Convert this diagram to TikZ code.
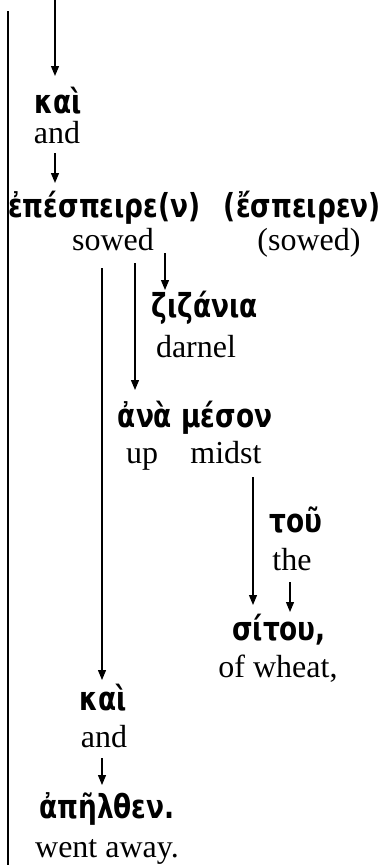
\documentclass[tikz,border=0pt]{standalone}
\usepackage{fontspec}
\setmainfont{Liberation Serif}
\newfontfamily\greekfont[FakeStretch=0.8]{DejaVu Sans}
\usetikzlibrary{arrows.meta}
\begin{document}
\begin{tikzpicture}[x=1pt,y=-1pt,
  gk/.style={font=\greekfont\bfseries\fontsize{33}{33}\selectfont, inner sep=0pt, anchor=base},
  en/.style={font=\fontsize{32}{32}\selectfont, inner sep=0pt, anchor=base},
  arr/.style={line width=1.2pt, -{Triangle[width=8pt,length=10pt]}},
  rule/.style={line width=1.3pt}]
\useasboundingbox (0,0) rectangle (384,865);
\coordinate (top) at (8,11);
\coordinate (bot) at (8,865);
\draw[rule] (top) -- (bot);
\node[gk] (kai1) at (58,113) {καὶ};
\node[en] (and1) at (57,143) {and};
\node[gk,anchor=base west] (epesp) at (8,217) {ἐπέσπειρε(ν)};
\node[gk,anchor=base east] (esp) at (381,217) {(ἔσπειρεν)};
\node[en] (sowed) at (113,250) {sowed};
\node[en] (sowed2) at (309,250) {(sowed)};
\node[gk] (ziz) at (205,317) {ζιζάνια};
\node[en] (darnel) at (196,357) {darnel};
\node[gk] (ana) at (195,427) {ἀνὰ μέσον};
\node[en] (up) at (142,463) {up};
\node[en] (midst) at (226,463) {midst};
\node[gk] (tou) at (296,532) {τοῦ};
\node[en] (the) at (292,570) {the};
\node[gk] (sitou) at (279,640) {σίτου,};
\node[en] (wheat) at (278,677) {of wheat,};
\node[gk] (kai2) at (103,710) {καὶ};
\node[en] (and2) at (104,747) {and};
\node[gk] (apel) at (107,818) {ἀπῆλθεν.};
\node[en] (away) at (107,857) {went away.};
\coordinate (a1) at (55,0);
\coordinate (a2) at (55,153);
\coordinate (a3) at (165,253);
\coordinate (a4) at (135,263);
\coordinate (a5) at (102,268);
\coordinate (a6) at (253,477);
\coordinate (a7) at (290,582);
\coordinate (a8) at (102,758);
\draw[arr] (a1) -- (a1 |- 0,76);
\draw[arr] (a2) -- (a2 |- 0,183);
\draw[arr] (a3) -- (a3 |- 0,290);
\draw[arr] (a4) -- (a4 |- 0,390);
\draw[arr] (a5) -- (a5 |- 0,680);
\draw[arr] (a6) -- (a6 |- 0,605);
\draw[arr] (a7) -- (a7 |- 0,612);
\draw[arr] (a8) -- (a8 |- 0,785);
\end{tikzpicture}
\end{document}
